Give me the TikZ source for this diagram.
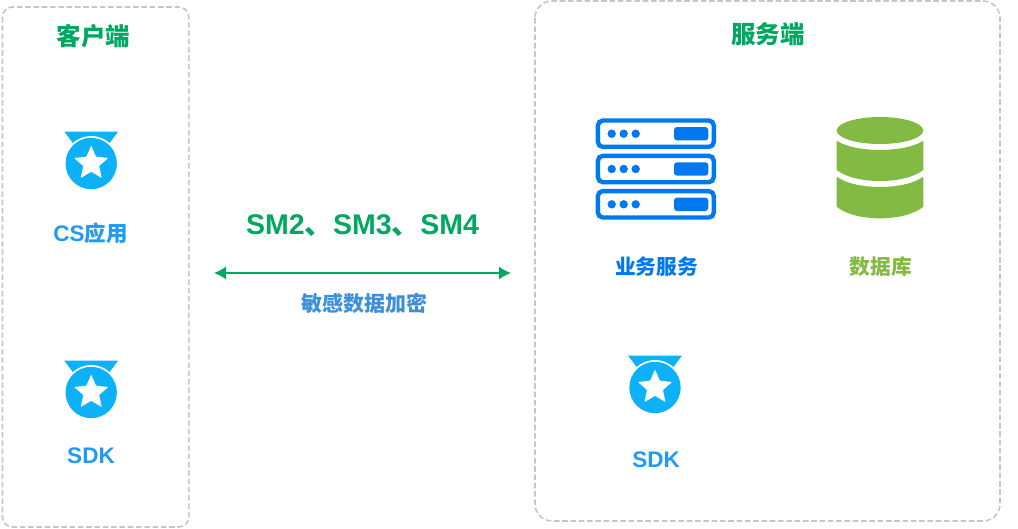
\documentclass[tikz,border=0pt]{standalone}
\usepackage{fontspec}
\setmainfont{Liberation Sans}
\newfontfamily\cjk{Noto Sans CJK SC}
\usetikzlibrary{arrows.meta,calc}
\definecolor{titlegreen}{HTML}{00A862}
\definecolor{lblblue}{HTML}{1F9BF5}
\definecolor{srvblue}{HTML}{0079F0}
\definecolor{dbgreen}{HTML}{82BA44}
\definecolor{encblue}{HTML}{3D8FD9}
\definecolor{medalblue}{HTML}{0DB1F7}
\definecolor{boxgray}{HTML}{C6C6C6}
\tikzset{
  x=1pt,y=-1pt,
  groupbox/.style={draw=boxgray,line width=1.6pt,dash pattern=on 5.6pt off 2.7pt,fill=none},
  lbl/.style={inner sep=0pt,font=\bfseries},
  serverframe/.style={draw=srvblue,line width=4.4pt,rounded corners=5pt,fill=none},
}
\newcommand{\medal}[2]{%
  \begin{scope}[shift={(#1,#2)}]
    \fill[medalblue] (-27,-32) -- (27,-32) -- (18,-20) -- (-18,-20) -- cycle;
    \fill[white] (0,0) circle[radius=27.5];
    \fill[medalblue] (0,0) circle[radius=25.7];
    \fill[white,rounded corners=0.8pt]
      (-90:18) -- (-54:8.3) -- (-18:18) -- (18:8.3) -- (54:18) -- (90:8.3)
      -- (126:18) -- (162:8.3) -- (-162:18) -- (-126:8.3) -- cycle;
  \end{scope}}
\newcommand{\serverrow}[1]{%
  \begin{scope}[shift={(0,#1)}]
    \draw[serverframe] (597.9,-13.2) rectangle (713.8,13.2);
    \fill[srvblue] (611.7,0) circle[radius=4.2] (623.7,0) circle[radius=4.2] (635.7,0) circle[radius=4.2];
    \fill[srvblue,rounded corners=3pt] (674,-6.7) rectangle (708.3,6.7);
  \end{scope}}
\begin{document}
\begin{tikzpicture}
\useasboundingbox (0,0) rectangle (1018,528);
\draw[groupbox,rounded corners=10pt] (2.5,7) rectangle (188.8,527);
\draw[groupbox,rounded corners=17pt] (535,1) rectangle (1000,521);
\node[lbl,text=titlegreen,font=\cjk\bfseries\fontsize{24.5}{24}\selectfont] (client) at (93.5,36) {客户端};
\node[lbl,text=titlegreen,font=\cjk\bfseries\fontsize{24.5}{24}\selectfont] (server) at (768,34) {服务端};
\medal{91.2}{163.5}
\medal{91.2}{392.5}
\medal{655}{387.5}
\node[lbl,text=lblblue,font=\bfseries\fontsize{22.5}{22}\selectfont] (cs) at (90.5,233) {CS{\cjk\fontsize{21.5}{21}\selectfont 应用}};
\node[lbl,text=lblblue,font=\bfseries\fontsize{22.5}{22}\selectfont] (sdka) at (91,456) {SDK};
\node[lbl,text=lblblue,font=\bfseries\fontsize{22.5}{22}\selectfont] (sdkb) at (656,460) {SDK};
\node[lbl,text=titlegreen,font=\bfseries\fontsize{28.5}{28}\selectfont] (algos) at (362.5,226) {SM2{\cjk 、}SM3{\cjk 、}SM4};
\coordinate (la) at (214,273);
\coordinate (lb) at (511,273);
\draw[titlegreen,line width=1.6pt,{Latex[length=12pt,width=13pt]}-{Latex[length=12pt,width=13pt]}] (la) -- (lb);
\node[lbl,text=encblue,font=\cjk\bfseries\fontsize{21}{21}\selectfont] (enc) at (364,303) {敏感数据加密};
\serverrow{133.7}
\serverrow{169}
\serverrow{204.3}
\node[lbl,text=srvblue,font=\cjk\bfseries\fontsize{20.7}{21}\selectfont] (biz) at (656.5,267) {业务服务};
% database
\fill[dbgreen] (880,130.5) ellipse[x radius=43.3,y radius=13.5];
\fill[dbgreen] (836.7,140.7) .. controls (855,153) and (905,153) .. (923.3,140.7) -- (923.3,170) .. controls (905,184.7) and (855,184.7) .. (836.7,170) -- cycle;
\fill[dbgreen] (836.7,176.7) .. controls (855,190.4) and (905,190.4) .. (923.3,176.7) -- (923.3,206.7) .. controls (905,222.2) and (855,222.2) .. (836.7,206.7) -- cycle;
\node[lbl,text=dbgreen,font=\cjk\bfseries\fontsize{20.7}{21}\selectfont] (db) at (881,267) {数据库};
\end{tikzpicture}
\end{document}
